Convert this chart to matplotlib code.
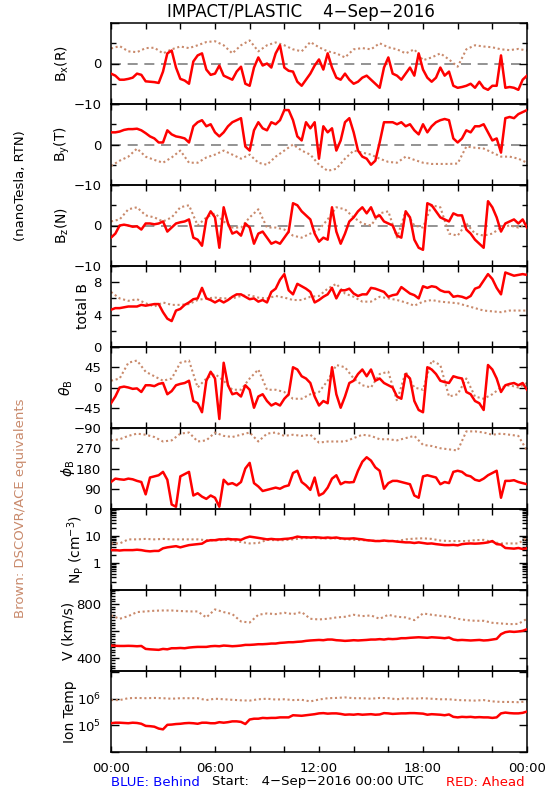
import numpy as np
import matplotlib
matplotlib.use('Agg')
import matplotlib.pyplot as plt
from matplotlib.ticker import FixedLocator, NullFormatter, LogLocator, MultipleLocator, NullLocator

plt.rcParams['font.family'] = ['DejaVu Sans']

# ---------------- data ----------------
hours_red = np.arange(97) * 0.25     # 15-min samples, STEREO-A (red)
hours_brown = np.arange(49) * 0.5    # 30-min samples, DSCOVR/ACE (brown)

red_bx = [-2.5, -3.0, -4.0, -4.0, -3.8, -3.5, -2.5, -2.8, -4.4, -4.5, -4.6, -4.8, -2.0, 2.5, 3.2, -1.0,
          -3.8, -4.2, -5.0, 0.5, 2.0, 2.5, -1.5, -2.8, -2.5, -0.5, -3.0, -3.5, -4.0, -2.0, -0.8, -5.0,
          -5.5, -1.0, 1.5, -0.5, 0.0, -1.0, 2.5, 4.5, -1.0, -1.8, -2.0, -4.5, -5.5, -4.0, -2.5, -0.5,
          1.0, -1.5, 2.5, -1.0, -3.5, -4.0, -2.5, -4.0, -5.0, -4.5, -3.5, -3.0, -4.0, -5.0, -6.0, -1.0,
          1.5, -2.5, -3.0, -4.0, -2.5, -1.0, -3.0, 2.5, -1.5, -3.5, -4.5, -3.5, -1.0, -3.0, -2.0, -5.5,
          -6.0, -5.8, -5.5, -5.0, -6.0, -4.5, -6.0, -6.5, -5.5, -5.5, 2.0, -6.0, -5.8, -6.0, -6.5, -4.0, -3.0]
brown_bx = [3.7, 4.3, 3.0, 2.8, 3.8, 3.9, 2.5, 3.5, 4.2, 3.8, 4.5, 5.3, 5.5, 4.5, 2.5, 4.5, 5.7, 3.0,
            4.5, 5.2, 4.5, 3.5, 3.0, 5.3, 4.0, 3.0, 2.5, 1.5, 3.5, 3.8, 3.5, 5.0, 4.0, 3.5, 2.5, 3.5,
            0.8, 1.5, 2.5, 1.0, -0.8, 3.5, 4.5, 4.2, 4.0, 3.5, 3.3, 3.6, 3.2]

red_by = [3.0, 3.0, 3.2, 3.6, 3.8, 3.8, 3.9, 3.5, 2.8, 2.0, 1.5, 0.5, 0.5, 3.5, 2.5, 2.0, 1.8, 1.5,
          0.5, 4.5, 5.5, 6.0, 4.5, 5.0, 3.0, 2.0, 3.0, 4.5, 5.5, 6.0, 6.5, -0.5, -1.5, 3.5, 5.5, 4.0,
          3.5, 5.5, 5.0, 6.0, 8.5, 8.5, 6.0, 2.0, 1.0, 5.5, 4.0, 5.5, -3.5, 4.5, 3.0, 4.0, -1.5, 1.0,
          5.5, 6.5, 3.0, -1.5, -3.0, -3.5, -5.0, -4.0, 0.5, 5.5, 5.5, 5.5, 5.0, 5.5, 4.5, 5.0, 3.5,
          2.5, 5.0, 3.0, 4.5, 5.5, 6.0, 6.3, 6.0, 1.5, 0.5, 1.5, 3.5, 3.0, 4.5, 4.5, 5.0, 3.0, 1.0,
          1.5, -2.0, 6.5, 6.8, 6.5, 7.5, 8.0, 8.5]
brown_by = [-5.3, -4.0, -3.0, -1.0, -3.0, -3.8, -4.5, -3.2, -1.5, -4.5, -4.5, -3.2, -2.5, -1.5, -2.5,
            -3.5, -2.5, -4.5, -5.0, -3.0, -1.5, 0.0, -1.5, -2.5, -5.0, -6.5, -6.0, -3.5, -1.5, -2.0,
            -2.5, -3.5, -4.3, -4.5, -3.0, -3.8, -4.5, -4.8, -4.8, -4.8, -4.7, -0.5, -0.8, -1.0, -2.0,
            -3.0, -3.0, -3.5, -4.5]

red_bz = [-3.0, -2.0, 0.0, 0.2, 0.0, -0.3, -0.2, -1.0, 0.5, 0.5, 0.3, 0.5, 1.0, -1.5, -0.5, 0.5, 0.8,
          1.0, 1.5, -3.0, -3.5, -5.0, 1.5, 3.5, 2.0, -5.5, 4.5, 0.5, -2.0, -1.5, -2.5, 0.5, -0.5, -4.5,
          -2.0, -1.5, -3.0, -4.5, -4.0, -4.5, -3.0, -1.5, 5.5, 5.0, 3.5, 2.5, 1.5, -2.0, -4.0, -3.0,
          -3.5, 4.5, -1.5, -4.5, -2.0, 1.0, 2.0, 3.5, 4.5, 3.0, 4.5, 2.0, 2.5, 1.0, 0.5, 0.0, -2.5,
          -3.0, 3.5, 2.0, -3.5, -5.5, -6.0, 5.5, 5.0, 3.5, 2.0, 1.5, 1.0, 3.0, 2.5, 2.5, -1.0, -2.0,
          -3.5, -4.5, -5.5, 6.0, 4.5, 2.0, -1.5, 0.5, 1.0, 1.5, 0.5, 1.5, -0.5]
brown_bz = [1.0, 1.5, 4.0, 4.5, 2.5, 2.0, 1.0, 2.0, 4.5, 5.0, 0.0, 2.0, 3.0, 1.0, -0.5, -0.5, 2.0, 4.0,
            -0.5, -0.5, -1.0, -2.5, -3.0, -2.0, -1.0, 1.5, 4.5, 4.0, 2.0, 0.5, 0.0, 3.0, 3.5, -3.0, 3.5,
            0.0, -0.5, 5.0, 4.5, -2.0, -2.5, 0.5, -2.0, -2.5, -2.0, -0.5, 0.0, -0.5, 0.5]

red_bt = [4.6, 4.8, 4.8, 4.9, 5.0, 5.0, 5.0, 5.2, 5.1, 5.2, 5.3, 5.3, 4.3, 3.5, 3.2, 4.5, 4.7, 5.2, 5.5,
          5.9, 6.0, 7.3, 6.0, 5.8, 5.5, 5.8, 5.5, 5.8, 6.2, 6.5, 6.5, 6.2, 5.9, 6.0, 5.6, 5.8, 5.5, 6.8,
          7.2, 8.3, 9.0, 7.0, 6.5, 7.8, 7.5, 7.2, 6.8, 5.5, 5.8, 6.2, 6.5, 7.3, 6.0, 7.0, 7.0, 7.2, 6.6,
          6.3, 6.5, 6.5, 7.3, 7.2, 7.0, 6.8, 6.2, 6.4, 6.5, 7.4, 7.0, 6.6, 6.4, 6.0, 7.5, 7.3, 7.5, 7.4,
          7.0, 6.8, 6.8, 6.2, 6.3, 6.2, 6.0, 6.3, 7.2, 7.4, 8.2, 9.0, 8.4, 7.3, 6.5, 9.2, 9.0, 8.8, 8.9,
          9.0, 8.9]
brown_bt = [6.8, 6.0, 5.7, 5.9, 5.4, 5.0, 5.5, 5.2, 5.2, 5.3, 5.8, 6.0, 6.1, 6.0, 6.0, 6.3, 6.4, 6.1,
            6.0, 6.3, 6.1, 5.8, 5.8, 6.2, 6.3, 7.2, 7.8, 6.6, 6.2, 5.6, 5.6, 6.2, 6.0, 5.8, 5.5, 5.1,
            5.6, 5.8, 5.6, 5.5, 5.4, 5.1, 4.8, 4.5, 4.4, 4.3, 4.5, 4.5, 4.5]

red_theta = [-35, -20, 0, 2, 0, -3, -2, -10, 5, 5, 3, 8, 10, -15, -8, 5, 8, 10, 15, -30, -35, -55, 15,
             35, 20, -70, 55, 5, -15, -12, -20, 5, -5, -45, -20, -15, -30, -40, -35, -40, -25, -15, 45,
             40, 25, 20, 10, -20, -40, -30, -35, 45, -15, -45, -20, 10, 15, 30, 40, 25, 40, 15, 20, 10,
             5, 0, -20, -25, 30, 20, -30, -50, -55, 45, 40, 30, 15, 12, 10, 25, 22, 20, -10, -15, -30,
             -35, -50, 50, 40, 20, -10, 5, 8, 10, 5, 10, -5]
brown_theta = [15, 20, 55, 60, 35, 25, 15, 20, 55, 60, 0, 20, 30, 15, -5, -5, 20, 40, -5, -5, -10, -25,
               -25, -15, -10, 15, 50, 45, 20, 5, 0, 30, 35, -30, 35, 0, -5, 60, 50, -20, -15, 20, -20,
               -25, -15, 0, 5, 0, 10]

red_phi = [120, 135, 132, 130, 135, 132, 125, 120, 65, 140, 145, 150, 165, 130, 20, 10, 145, 155, 165,
           60, 70, 55, 45, 60, 50, 10, 130, 110, 115, 105, 120, 180, 205, 115, 100, 80, 85, 90, 95, 90,
           100, 105, 160, 170, 120, 105, 85, 140, 60, 70, 95, 135, 150, 110, 120, 118, 120, 170, 210,
           230, 215, 185, 170, 90, 115, 125, 125, 120, 115, 110, 60, 50, 145, 150, 145, 140, 110, 120,
           115, 165, 170, 165, 150, 145, 130, 125, 135, 150, 160, 170, 50, 125, 125, 128, 120, 115, 110]
brown_phi = [305, 310, 325, 335, 330, 320, 300, 305, 335, 340, 300, 305, 340, 325, 320, 330, 340, 300,
             335, 340, 325, 330, 325, 330, 295, 300, 300, 300, 315, 330, 325, 310, 310, 305, 315, 325,
             285, 280, 270, 265, 260, 345, 345, 340, 330, 335, 330, 325, 260]

red_np = [3.0, 3.0, 2.9, 3.0, 3.0, 3.0, 3.1, 3.0, 2.8, 2.7, 2.8, 2.8, 3.5, 3.8, 4.0, 4.2, 3.8, 4.2, 4.6,
          4.8, 5.0, 5.2, 6.5, 7.0, 7.0, 7.5, 7.5, 7.8, 7.5, 7.5, 7.2, 8.5, 9.5, 9.0, 8.5, 8.0, 7.5, 7.8,
          7.5, 7.5, 7.8, 8.0, 8.5, 9.5, 9.0, 9.0, 8.8, 9.0, 8.8, 8.5, 8.8, 8.5, 8.8, 8.2, 8.0, 8.0, 8.2,
          7.8, 7.5, 7.0, 6.8, 6.5, 6.5, 6.8, 6.5, 6.5, 6.2, 6.0, 5.8, 5.8, 5.5, 5.8, 5.5, 5.2, 5.3, 5.0,
          4.8, 4.6, 4.6, 4.7, 4.5, 5.0, 5.2, 5.3, 5.2, 5.3, 5.5, 5.8, 6.5, 5.0, 4.8, 3.6, 3.5, 3.4, 3.6,
          3.3, 3.5]
brown_np = [5.3, 5.3, 7.5, 7.5, 7.8, 7.5, 7.8, 7.5, 7.5, 7.5, 7.5, 7.0, 6.8, 7.2, 7.0, 6.0, 5.3, 5.5,
            7.2, 7.0, 7.0, 7.5, 8.2, 8.5, 8.2, 8.0, 8.2, 7.5, 7.2, 7.0, 6.8, 6.5, 6.6, 6.5, 7.5, 8.0,
            8.2, 7.8, 6.8, 6.5, 6.5, 6.5, 7.0, 7.2, 6.0, 5.3, 5.3, 5.3, 8.5]

red_v = [490, 488, 487, 487, 488, 487, 485, 487, 465, 462, 460, 458, 465, 462, 470, 470, 472, 470, 475,
         478, 480, 480, 480, 485, 487, 485, 490, 488, 485, 487, 490, 495, 495, 497, 500, 500, 502, 505,
         505, 510, 512, 515, 515, 518, 520, 525, 528, 530, 532, 530, 535, 535, 530, 528, 525, 527, 530,
         528, 530, 532, 535, 535, 538, 535, 540, 538, 540, 545, 545, 548, 550, 552, 550, 548, 552, 550,
         548, 545, 550, 535, 530, 532, 530, 528, 530, 532, 528, 530, 535, 540, 575, 590, 595, 592, 595,
         600, 612]
brown_v = [715, 690, 710, 740, 745, 750, 752, 752, 748, 745, 745, 700, 760, 740, 725, 670, 662, 720, 730,
           725, 735, 725, 740, 690, 685, 690, 700, 705, 720, 710, 715, 690, 720, 705, 700, 680, 730, 720,
           712, 705, 690, 680, 675, 675, 660, 655, 650, 652, 690]

red_logT = [5.08, 5.10, 5.10, 5.09, 5.08, 5.10, 5.09, 5.06, 4.98, 4.97, 4.95, 4.88, 4.85, 5.02, 5.03,
            5.05, 5.06, 5.08, 5.09, 5.08, 5.06, 5.10, 5.10, 5.08, 5.08, 5.12, 5.10, 5.12, 5.15, 5.15,
            5.13, 5.05, 5.22, 5.25, 5.25, 5.28, 5.27, 5.28, 5.28, 5.30, 5.30, 5.30, 5.38, 5.37, 5.36,
            5.38, 5.40, 5.42, 5.45, 5.46, 5.44, 5.45, 5.45, 5.43, 5.40, 5.41, 5.40, 5.42, 5.40, 5.41,
            5.42, 5.40, 5.41, 5.46, 5.45, 5.43, 5.44, 5.45, 5.45, 5.46, 5.46, 5.45, 5.44, 5.40, 5.42,
            5.41, 5.40, 5.38, 5.41, 5.32, 5.30, 5.32, 5.31, 5.32, 5.30, 5.31, 5.30, 5.30, 5.28, 5.30,
            5.45, 5.48, 5.46, 5.45, 5.45, 5.47, 5.52]
brown_logT = [5.95, 5.95, 6.02, 6.03, 6.02, 6.03, 6.02, 6.00, 6.02, 6.02, 6.02, 5.95, 6.00, 5.98, 5.96,
              5.94, 5.93, 5.98, 6.00, 5.97, 5.98, 5.95, 5.96, 5.90, 5.97, 6.02, 6.03, 6.05, 6.02, 6.02,
              6.00, 6.03, 6.02, 5.98, 6.02, 6.00, 6.02, 6.00, 5.98, 5.98, 5.95, 5.94, 5.93, 5.95, 5.90,
              5.88, 5.88, 5.87, 5.90]

xtick_hours = [0, 6, 12, 18, 24]
xtick_labels = ['00:00', '06:00', '12:00', '18:00', '00:00']

# ---------------- layout ----------------
W, H = 550, 800
RED = '#ff0000'
BROWN = '#c98a6c'
fig = plt.figure(figsize=(W / 100, H / 100), dpi=100)

def fx(x):
    return x / W

def fy(y):
    return 1 - y / H

panel_top, panel_h = 23, 81
left_px, width_px = 111, 416

panels = [
    dict(red=red_bx, brown=brown_bx, lim=(-10, 10), major=[-10, 0, 10], labels=['\u221210', '0', ''],
         minor=[-5, 5], zero=True, label='B$_\\mathregular{x}$(R)', lx=62),
    dict(red=red_by, brown=brown_by, lim=(-10, 10), major=[-10, 0, 10], labels=['\u221210', '0', ''],
         minor=[-5, 5], zero=True, label='B$_\\mathregular{y}$(T)', lx=62),
    dict(red=red_bz, brown=brown_bz, lim=(-10, 10), major=[-10, 0, 10], labels=['\u221210', '0', ''],
         minor=[-5, 5], zero=True, label='B$_\\mathregular{z}$(N)', lx=62),
    dict(red=red_bt, brown=brown_bt, lim=(0, 10), major=[0, 4, 8], labels=['0', '4', '8'],
         minor=[2, 6, 10], zero=False, label='total B', lx=83),
    dict(red=red_theta, brown=brown_theta, lim=(-90, 90), major=[-90, -45, 0, 45, 90],
         labels=['\u221290', '\u221245', '0', '45', ''], minor=[], zero=False,
         label='$\\theta_\\mathregular{B}$', lx=66),
    dict(red=red_phi, brown=brown_phi, lim=(0, 360), major=[0, 90, 180, 270, 360],
         labels=['0', '90', '180', '270', ''], minor=[], zero=False,
         label='$\\phi_\\mathregular{B}$', lx=68),
    dict(red=red_np, brown=brown_np, lim=(0.1, 100), log=True, major=[0.1, 1, 10, 100],
         labels=['', '1', '10', ''], zero=False,
         label='N$_\\mathregular{P}$ (cm$^{\\mathregular{-3}}$)', lx=75),
    dict(red=red_v, brown=brown_v, lim=(300, 905), major=[400, 600, 800], labels=['400', '', '800'],
         minor='v', zero=False, label='V (km/s)', lx=68),
    dict(red=[10 ** v for v in red_logT], brown=[10 ** v for v in brown_logT], lim=(1e4, 1.1e7),
         log=True, major=[1e4, 1e5, 1e6, 1e7],
         labels=['', '10$^{\\mathregular{5}}$', '10$^{\\mathregular{6}}$', ''], zero=False,
         label='Ion Temp', lx=70, nominor=True),
]

axes = []
for i, p in enumerate(panels):
    top = panel_top + panel_h * i
    ax = fig.add_axes([fx(left_px), fy(top + panel_h), width_px / W, panel_h / H])
    axes.append(ax)
    if p.get('log'):
        ax.set_yscale('log')
    if p['zero']:
        ax.axhline(0, color='#808080', lw=1.2, dashes=(6, 4), zorder=1)
    ax.plot(hours_brown, p['brown'], color=BROWN, lw=1.5, ls=(0, (1, 1.3)), zorder=2)
    ax.plot(hours_red, p['red'], color=RED, lw=1.8, zorder=3)
    ax.set_xlim(0, 24)
    ax.set_ylim(*p['lim'])

    ax.yaxis.set_major_locator(FixedLocator(p['major']))
    ax.set_yticklabels(p['labels'])
    if p.get('log'):
        if p.get('nominor'):
            ax.yaxis.set_minor_locator(NullLocator())
        else:
            ax.yaxis.set_minor_locator(LogLocator(base=10, subs=np.arange(2, 10)))
        ax.yaxis.set_minor_formatter(NullFormatter())
    elif p['minor'] == 'v':
        ax.yaxis.set_minor_locator(MultipleLocator(20))
    elif p['minor']:
        ax.yaxis.set_minor_locator(FixedLocator(p['minor']))
    else:
        ax.yaxis.set_minor_locator(NullLocator())

    ax.set_xticks(np.arange(0, 25, 2))
    ax.xaxis.set_minor_locator(NullLocator())
    if i == len(panels) - 1:
        labs = []
        for h in np.arange(0, 25, 2):
            labs.append(xtick_labels[xtick_hours.index(h)] if h in xtick_hours else '')
        ax.set_xticklabels(labs)
    else:
        ax.set_xticklabels([])

    ax.tick_params(axis='both', which='both', direction='in', top=True, right=True,
                   colors='black', labelsize=9.5)
    ax.tick_params(axis='x', which='major', length=4, width=1, pad=7)
    ax.tick_params(axis='y', which='major', length=6, width=1, pad=7)
    ax.tick_params(axis='y', which='minor', length=3.5, width=1)
    if p['minor'] == 'v' if not p.get('log') else False:
        ax.tick_params(axis='y', which='minor', right=False, length=3)
    for s in ax.spines.values():
        s.set_linewidth(1.1)
    ax.patch.set_alpha(0)

    fig.text(fx(p['lx']), fy(top + panel_h / 2), p['label'], rotation=90, ha='center', va='center',
             fontsize=10)

# title and side/bottom annotations
fig.text(fx(301), fy(12), 'IMPACT/PLASTIC    4\u2212Sep\u22122016', ha='center', va='center', fontsize=12)
fig.text(fx(21), fy(186), '(nanoTesla, RTN)', rotation=90, ha='center', va='center', fontsize=9.5)
fig.text(fx(21), fy(508), 'Brown: DSCOVR/ACE equivalents', rotation=90, ha='center', va='center',
         fontsize=9.5, color=BROWN)
fig.text(fx(111), fy(782), 'BLUE: Behind', ha='left', va='center', fontsize=9.5, color='#0000ff')
fig.text(fx(212), fy(782), 'Start:   4\u2212Sep\u22122016 00:00 UTC', ha='left', va='center', fontsize=9.5)
fig.text(fx(525), fy(782), 'RED: Ahead', ha='right', va='center', fontsize=9.5, color=RED)

fig.savefig('out.png', dpi=100, facecolor='white')
